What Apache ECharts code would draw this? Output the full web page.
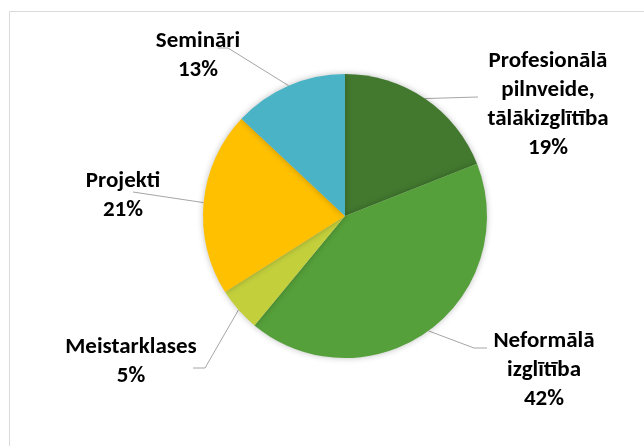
<!DOCTYPE html>
<html>
<head>
<meta charset="utf-8">
<script src="https://cdn.jsdelivr.net/npm/echarts@6/dist/echarts.min.js"></script>
<style>html,body{margin:0;padding:0;background:#fff}#c{width:644px;height:446px}</style>
</head>
<body>
<div id="c"></div>
<script>
const categories = ['Profesionālā\npilnveide,\ntālākizglītība', 'Neformālā\nizglītība', 'Meistarklases', 'Projekti', 'Semināri'];
const shares = [19, 42, 5, 21, 13];
const colors = ['#42792f', '#55a03a', '#c3d03c', '#ffc000', '#4ab3c6'];

// label placement (layout only): centre of label block, leader bend and end
const labelPlace = [
  { x: 548, y: 105, bend: [478, 97], end: [478, 97] },
  { x: 544, y: 370, bend: [474, 348], end: [487, 348] },
  { x: 131, y: 362, bend: [205, 368], end: [193, 368] },
  { x: 123, y: 196, bend: [133, 192], end: [133, 192] },
  { x: 198, y: 56,  bend: [228, 48],  end: [218, 48] }
];

const chart = echarts.init(document.getElementById('c'), null, { renderer: 'canvas' });
chart.setOption({
  animation: false,
  backgroundColor: '#fff',
  graphic: [{
    type: 'rect', silent: true,
    shape: { x: 9.5, y: 11.5, width: 700, height: 500 },
    style: { fill: 'none', stroke: '#d9d9d9', lineWidth: 1 }
  }],
  series: [{
    type: 'pie',
    center: [345, 216],
    radius: 142,
    startAngle: 90,
    clockwise: true,
    avoidLabelOverlap: false,
    itemStyle: { borderWidth: 0, shadowBlur: 6, shadowColor: 'rgba(0,0,0,0.25)' },
    label: {
      show: true, position: 'outside',
      formatter: p => p.name + '\n' + p.value + '%',
      fontFamily: 'Carlito, Lato, sans-serif', fontWeight: 'bold', fontSize: 23,
      lineHeight: 29, color: '#000', align: 'center'
    },
    labelLine: { show: true, length: 10, length2: 10, smooth: false,
      lineStyle: { color: '#a6a6a6', width: 1 } },
    labelLayout: function (params) {
      const L = labelPlace[params.dataIndex];
      const s = params.labelLinePoints ? params.labelLinePoints[0] : L.bend;
      return { x: L.x, y: L.y, align: 'center', verticalAlign: 'middle',
        labelLinePoints: [s, L.bend, L.end] };
    },
    data: categories.map((c, i) => ({ name: c, value: shares[i], itemStyle: { color: colors[i] } }))
  }]
});
</script>
</body>
</html>
